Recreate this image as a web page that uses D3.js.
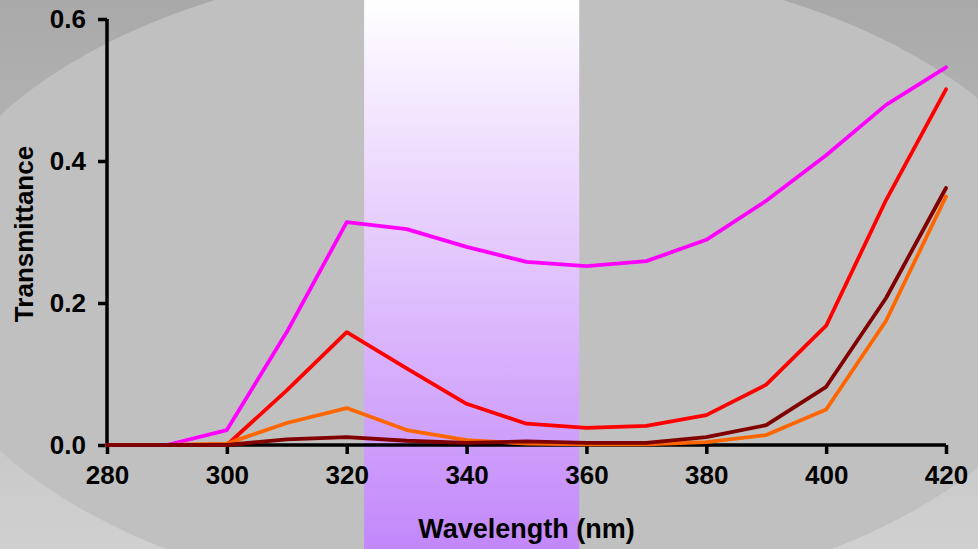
<!DOCTYPE html>
<html>
<head>
<meta charset="utf-8">
<script src="https://cdn.jsdelivr.net/npm/d3@7"></script>
<style>
  body { margin: 0; overflow: hidden; }
  text { font-family: "Liberation Sans", Arial, sans-serif; font-weight: bold; }
</style>
</head>
<body>
<script>

//Data
var wavelengths = [280, 290, 300, 310, 320, 330, 340, 350, 360, 370, 380, 390, 400, 410, 420];
var magentaT = [0, 0, 0.021, 0.159, 0.314, 0.304, 0.279, 0.258, 0.252, 0.259, 0.289, 0.344, 0.408, 0.479, 0.532];
var redT     = [0, 0, 0, 0.077, 0.159, 0.108, 0.058, 0.030, 0.024, 0.027, 0.042, 0.085, 0.168, 0.345, 0.501];
var orangeT  = [0, 0, 0.002, 0.031, 0.052, 0.021, 0.007, 0.002, 0.001, 0.001, 0.004, 0.014, 0.050, 0.175, 0.350];
var darkT    = [0, 0, 0, 0.008, 0.011, 0.006, 0.003, 0.005, 0.003, 0.003, 0.011, 0.028, 0.082, 0.207, 0.362];
var xTicks = [280, 300, 320, 340, 360, 380, 400, 420];
var yTicks = [0, 0.2, 0.4, 0.6];
var uvBand = [322.9, 358.8];

var series = [
  {name: "magenta", values: magentaT, color: "#ff00ff"},
  {name: "red", values: redT, color: "#ff0000"},
  {name: "orange", values: orangeT, color: "#ff6600"},
  {name: "darkred", values: darkT, color: "#800000"}
];

var W = 978, H = 549;
var margin = {left: 107, right: 32, top: 19, bottom: 104},
    width = W - margin.left - margin.right,
    height = H - margin.top - margin.bottom;

var root = d3.select("body").append("svg")
    .attr("width", W)
    .attr("height", H);

var defs = root.append("defs");

//outer background fade
var bgGrad = defs.append("linearGradient")
    .attr("id", "bgGrad").attr("x1", 0).attr("y1", 0).attr("x2", 0).attr("y2", 1);
bgGrad.append("stop").attr("offset", "0%").attr("stop-color", "#a9a9a9");
bgGrad.append("stop").attr("offset", "100%").attr("stop-color", "#d0d0d0");

//purple band fade
var bandGrad = defs.append("linearGradient")
    .attr("id", "bandGrad").attr("x1", 0).attr("y1", 0).attr("x2", 0).attr("y2", 1);
bandGrad.append("stop").attr("offset", "0%").attr("stop-color", "#ffffff");
bandGrad.append("stop").attr("offset", "100%").attr("stop-color", "#c287fa");

root.append("rect")
    .attr("width", W).attr("height", H)
    .attr("fill", "url(#bgGrad)");

root.append("ellipse")
    .attr("cx", 499).attr("cy", 283)
    .attr("rx", 583).attr("ry", 324)
    .attr("fill", "#c0c0c0");

var xScale = d3.scaleLinear()
    .domain([280, 420])
    .range([margin.left, margin.left + width]);

var yScale = d3.scaleLinear()
    .domain([0, 0.6])
    .range([margin.top + height, margin.top]);

//UV band, full height of the picture
root.append("rect")
    .attr("x", xScale(uvBand[0]))
    .attr("y", 0)
    .attr("width", xScale(uvBand[1]) - xScale(uvBand[0]))
    .attr("height", H)
    .attr("fill", "url(#bandGrad)");

//Axes
var xAxis = d3.axisBottom(xScale).tickValues(xTicks).tickSize(9).tickPadding(12).tickFormat(d3.format("d"));
var yAxis = d3.axisLeft(yScale).tickValues(yTicks).tickSize(9).tickPadding(12).tickFormat(d3.format(".1f"));

var gx = root.append("g")
    .attr("class", "x axis")
    .attr("transform", "translate(0," + (margin.top + height) + ")")
    .call(xAxis);

var gy = root.append("g")
    .attr("class", "y axis")
    .attr("transform", "translate(" + margin.left + ",0)")
    .call(yAxis);

root.selectAll(".axis path")
    .attr("stroke", "#000")
    .attr("stroke-width", 3.5)
    .attr("d", function() {
        var isX = this.parentNode.classList.contains("x");
        return isX ? "M" + margin.left + ",0H" + (margin.left + width)
                   : "M0," + (margin.top + height) + "V" + margin.top;
    });
root.selectAll(".axis line")
    .attr("stroke", "#000")
    .attr("stroke-width", 3.5);
root.selectAll(".axis text")
    .attr("fill", "#000")
    .attr("font-size", "26px")
    .style("font-family", "'Liberation Sans', Arial, sans-serif")
    .style("font-weight", "bold");

//Lines
var line = d3.line()
    .x(function(d, i) { return xScale(wavelengths[i]); })
    .y(function(d) { return yScale(d); });

root.append("g").selectAll("path")
    .data(series)
    .enter()
    .append("path")
    .attr("d", function(s) { return line(s.values); })
    .attr("fill", "none")
    .attr("stroke", function(s) { return s.color; })
    .attr("stroke-width", 3.8)
    .attr("stroke-linejoin", "round")
    .attr("stroke-linecap", "round");

//Axis titles
root.append("text")
    .attr("x", margin.left + width / 2)
    .attr("y", 538)
    .attr("text-anchor", "middle")
    .attr("font-size", "27px")
    .text("Wavelength (nm)");

root.append("text")
    .attr("transform", "translate(33," + (margin.top + height / 2 + 2) + ") rotate(-90)")
    .attr("text-anchor", "middle")
    .attr("font-size", "26px")
    .text("Transmittance");

</script>
</body>
</html>
